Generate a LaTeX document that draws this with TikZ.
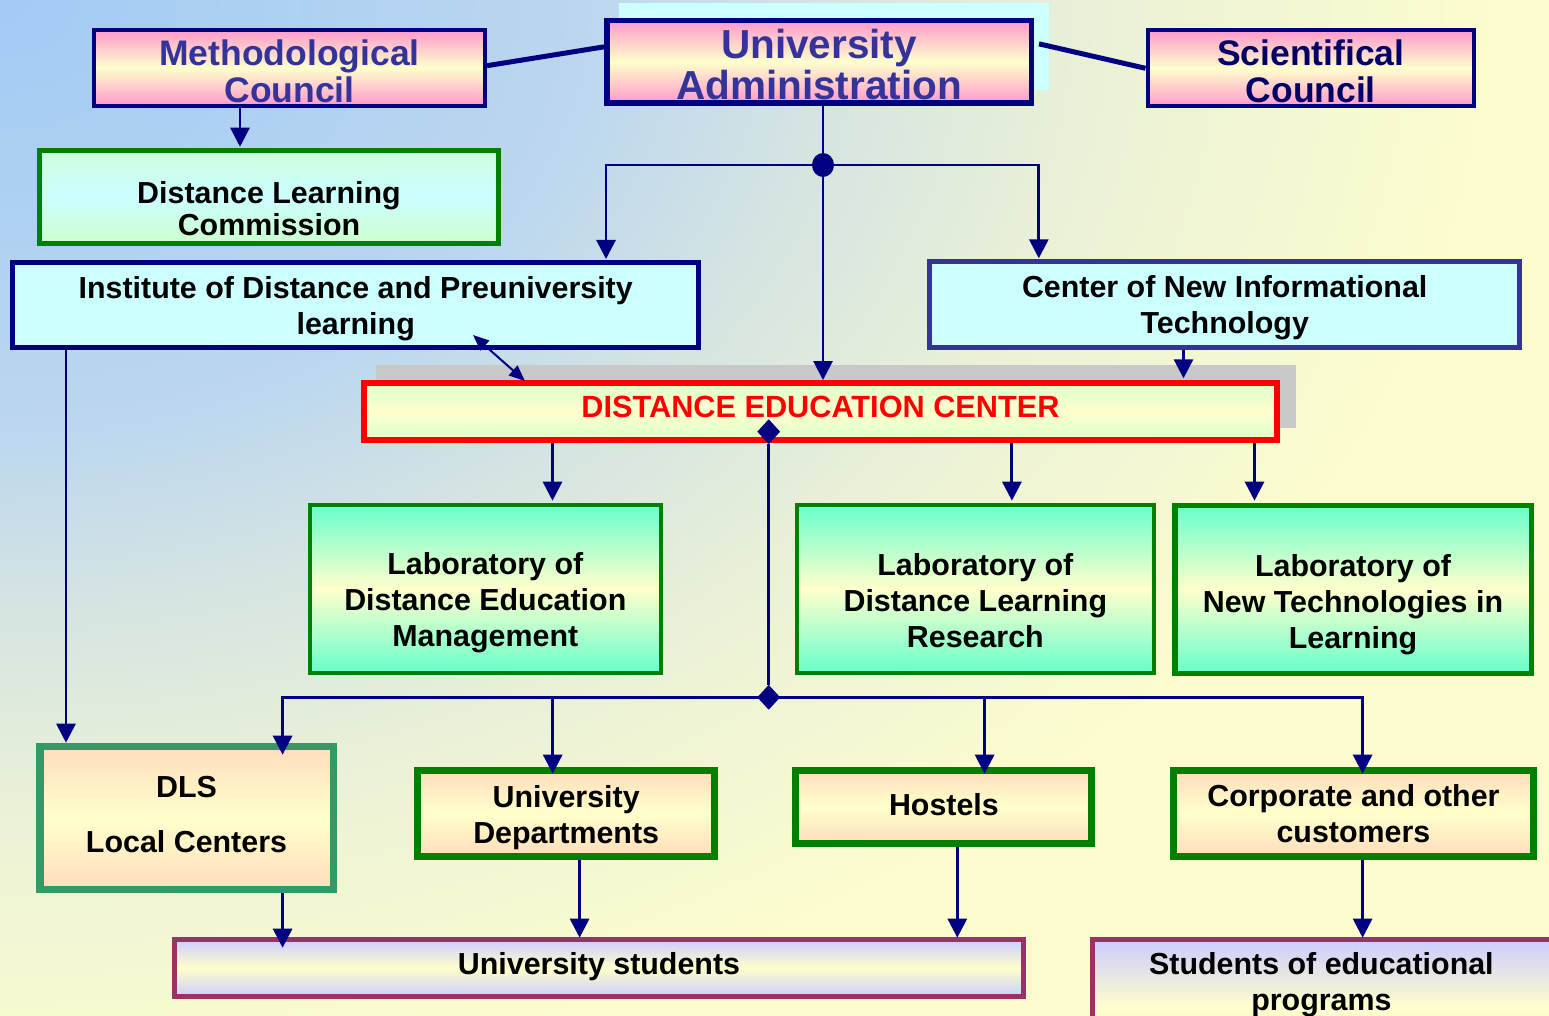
\documentclass[tikz,border=0pt]{standalone}
\usepackage{fontspec}
\setmainfont{Liberation Sans}
\usetikzlibrary{arrows.meta,shapes.geometric}
\definecolor{navy}{HTML}{000080}
\definecolor{tblue}{HTML}{333399}
\definecolor{tnavy}{HTML}{000066}
\definecolor{bpink}{HTML}{FF99CC}
\definecolor{lyel}{HTML}{FFFFCC}
\definecolor{lcyan}{HTML}{CCFFFF}
\definecolor{lgreen}{HTML}{CCFFCC}
\definecolor{lmint}{HTML}{CCFFDD}
\definecolor{decg}{HTML}{D9FFCC}
\definecolor{aqua}{HTML}{66FFCC}
\definecolor{peach}{HTML}{FFDDBB}
\definecolor{lav}{HTML}{CCCCFF}
\definecolor{dgreen}{HTML}{008000}
\definecolor{sgreen}{HTML}{339966}
\definecolor{plum}{HTML}{993366}
\definecolor{shgray}{HTML}{C8C8C8}
\definecolor{bgA}{HTML}{A2CBF5}
\definecolor{bgB}{HTML}{BCD7EE}
\definecolor{bgC}{HTML}{D5E4E2}
\definecolor{bgD}{HTML}{ECF2D6}
\definecolor{bgE}{HTML}{FCFCCE}
\pgfdeclareradialshading{bgsh}{\pgfpoint{0bp}{0bp}}{color(0bp)=(bgA); color(10bp)=(bgB); color(13.75bp)=(bgC); color(18.75bp)=(bgD); color(25bp)=(bgE); color(50bp)=(bgE)}
\tikzset{
  bx/.style={rectangle, inner sep=0pt},
  pinkbox/.style={bx, draw=navy, top color=bpink, bottom color=bpink, middle color=lyel},
  cyanbox/.style={bx, fill=lcyan},
  dlcbox/.style={bx, draw=dgreen, top color=lmint, bottom color=lgreen, middle color=lcyan},
  decbox/.style={bx, draw=red, top color=decg, bottom color=decg, middle color=lyel},
  labbox/.style={bx, draw=dgreen, top color=aqua, bottom color=aqua, middle color=lyel},
  peachbox/.style={bx, top color=peach, bottom color=peach, middle color=lyel},
  studbox/.style={bx, draw=plum, line width=5pt, top color=lav, bottom color=lav, middle color=lyel},
  txt/.style 2 args={align=center, inner sep=0pt, font=\bfseries\fontsize{#1}{#2}\selectfont},
  conn/.style={draw=navy, line width=2.9pt},
  thk/.style={draw=navy, line width=5pt},
  arr/.style={conn, -{Triangle[width=19pt,length=19pt]}},
  darr/.style={draw=navy, line width=2pt, {Triangle[width=13pt,length=16pt]}-{Triangle[width=13pt,length=16pt]}},
  jdot/.style={ellipse, fill=navy, inner sep=0pt, minimum width=22pt, minimum height=24pt},
  jdiam/.style={diamond, fill=navy, inner sep=0pt, minimum width=23pt, minimum height=25pt}
}
\begin{document}
\begin{tikzpicture}[x=1pt,y=-1pt]
\useasboundingbox (0,0) rectangle (1549,1016);
\clip (0,0) rectangle (1549,1016);
% background
\fill[bgE] (0,0) rectangle (1549,1016);
\shade[shading=bgsh] (-1500,-1100) rectangle (1500,1100);
% shadows
\fill[lcyan] (619,2.7) rectangle (1049,90);
\fill[shgray] (375.6,365) rectangle (1295.6,428.3);

% boxes
\node[pinkbox, line width=4pt, minimum width=391pt, minimum height=76pt] (mc) at (289.5,67.7) {};
\node[pinkbox, line width=5.5pt, minimum width=424.5pt, minimum height=82.8pt] (ua) at (819,61.85) {};
\node[pinkbox, line width=4pt, minimum width=326.5pt, minimum height=76pt] (sc) at (1310.75,68.3) {};
\node[dlcbox, line width=5pt, minimum width=459pt, minimum height=92.7pt] (dlc) at (269,197.2) {};
\node[cyanbox, draw=navy, line width=5pt, minimum width=686.5pt, minimum height=85pt] (ipl) at (355.7,305) {};
\node[cyanbox, draw=tblue, line width=4.7pt, minimum width=590pt, minimum height=86pt] (cnit) at (1224.7,304.7) {};
\node[decbox, line width=6pt, minimum width=913.7pt, minimum height=57.3pt] (dec) at (820.5,411.7) {};
\node[labbox, line width=4pt, minimum width=350.7pt, minimum height=168.3pt] (l1) at (485.3,588.85) {};
\node[labbox, line width=4pt, minimum width=357.3pt, minimum height=168.3pt] (l2) at (975.35,588.85) {};
\node[labbox, line width=5.5pt, minimum width=356.5pt, minimum height=167.8pt] (l3) at (1353,589.35) {};
\node[peachbox, draw=sgreen, line width=7.5pt, minimum width=293.5pt, minimum height=142.8pt] (dls) at (186.5,817.85) {};
\node[peachbox, draw=dgreen, line width=7pt, minimum width=296.6pt, minimum height=86.3pt] (ud) at (566.2,813.35) {};
\node[peachbox, draw=dgreen, line width=7pt, minimum width=296pt, minimum height=73pt] (ho) at (943.9,806.7) {};
\node[peachbox, draw=dgreen, line width=7pt, minimum width=359.1pt, minimum height=86.3pt] (co) at (1353.45,813.35) {};
\node[studbox, minimum width=848.8pt, minimum height=57.6pt] (us) at (598.9,968) {};
\node[studbox, minimum width=504.6pt, minimum height=138.3pt] (sp) at (1345.2,1008.35) {};

% texts
\node[txt={35.5}{37.5}, text=tblue] (mct) at (289.5,71.3) {Methodological\\Council};
\node[txt={40.5}{41}, text=tblue] (uat) at (819,65) {University\\Administration};
\node[txt={35.5}{37.5}, text=tnavy] (sct) at (1310.75,71.3) {Scientifical\\Council};
\node[txt={30.4}{32}, text=black] (dlct) at (269,208.5) {Distance Learning\\Commission};
\node[txt={30.4}{36}] (iplt) at (355.7,308.6) {Institute of Distance and Preuniversity\\learning};
\node[txt={30.4}{36}] (cnitt) at (1224.7,308) {Center of New Informational\\Technology};
\node[txt={30.7}{34}, text=red] (dect) at (820.5,407) {DISTANCE EDUCATION CENTER};
\node[txt={30.4}{36}] (l1t) at (485.3,603.2) {Laboratory of\\Distance Education\\Management};
\node[txt={30.4}{36}] (l2t) at (975.35,600.2) {Laboratory of\\Distance Learning\\Research};
\node[txt={30.4}{36}] (l3t) at (1353,604.6) {Laboratory of\\New Technologies in\\Learning};
\node[txt={30.4}{36}] (dlst) at (186.5,814.5) {DLS\\[19pt]Local Centers};
\node[txt={30.4}{36}] (udt) at (566.2,817.2) {University\\Departments};
\node[txt={30.4}{36}] (hot) at (943.9,805) {Hostels};
\node[txt={30.4}{36}] (cot) at (1353.45,814) {Corporate and other\\customers};
\node[txt={30.4}{36}] (ust) at (599,966.9) {University students};
\node[txt={30.4}{36}] (spt) at (1321.4,984.7) {Students of educational\\programs};

% council links
\draw[thk] ([yshift=2pt]mc.east) -- ([yshift=15pt]ua.west);
\draw[thk] ([xshift=5pt,yshift=18pt]ua.east) -- (sc.west);

% top junction
\node[jdot] (j1) at (823,165) {};
\coordinate (b1l) at (606,165);
\coordinate (b1r) at (1038.8,165);
\draw[conn] (ua.south -| j1) -- (j1);
\draw[conn] ([xshift=-1.45pt]b1l) -- ([xshift=1.45pt]b1r);
\draw[arr, shorten >=1pt] (b1l) -- (b1l |- ipl.north);
\draw[arr, shorten >=1pt] (b1r) -- (b1r |- cnit.north);
\draw[arr] (j1) -- (j1 |- dec.north);

\coordinate (m1) at (240,107.7);
\draw[arr, shorten >=1.6pt] (m1) -- (m1 |- dlc.north);

\coordinate (cn1) at (1183.5,350);
\draw[arr, shorten >=1.7pt] (cn1) -- (cn1 |- dec.north);

\coordinate (iplD) at (473,335);
\coordinate (decD) at (525,381);
\draw[darr] (iplD) -- (decD);

\coordinate (i1) at (66,350);
\draw[arr] (i1) -- (i1 |- dls.north);

% DEC to labs
\coordinate (d1) at (552.5,443.3);
\coordinate (d2) at (1011.9,443.3);
\coordinate (d3) at (1254.5,443.3);
\draw[arr, shorten >=2pt] (d1) -- (d1 |- l1.north);
\draw[arr, shorten >=2pt] (d2) -- (d2 |- l2.north);
\draw[arr, shorten >=2pt] (d3) -- (d3 |- l3.north);

% lower bus
\node[jdiam] (dm1) at (768.7,431.7) {};
\node[jdiam] (dm2) at (768.7,697.3) {};
\draw[conn] (dm1) -- (dm2);
\coordinate (bl) at (282.6,697.3);
\coordinate (br) at (1362.6,697.3);
\coordinate (bud) at (552.7,697.3);
\coordinate (bho) at (984.6,697.3);
\draw[conn] ([xshift=-1.45pt]bl) -- ([xshift=1.45pt]br);
\draw[arr, shorten >=-12pt] (bl) -- (bl |- dls.north);
\draw[arr, shorten >=-7pt] (bud) -- (bud |- ud.north);
\draw[arr, shorten >=-7pt] (bho) -- (bho |- ho.north);
\draw[arr, shorten >=-7pt] (br) -- (br |- co.north);

% to students
\draw[arr, shorten >=-11pt] (bl |- dls.south) -- (bl |- us.north);
\coordinate (u1) at (579.6,860);
\draw[arr, shorten >=-1pt] (u1) -- (u1 |- us.north);
\coordinate (h1) at (957.3,846.7);
\draw[arr, shorten >=-1pt] (h1) -- (h1 |- us.north);
\draw[arr, shorten >=-1pt] (br |- co.south) -- (br |- sp.north);
\end{tikzpicture}
\end{document}
